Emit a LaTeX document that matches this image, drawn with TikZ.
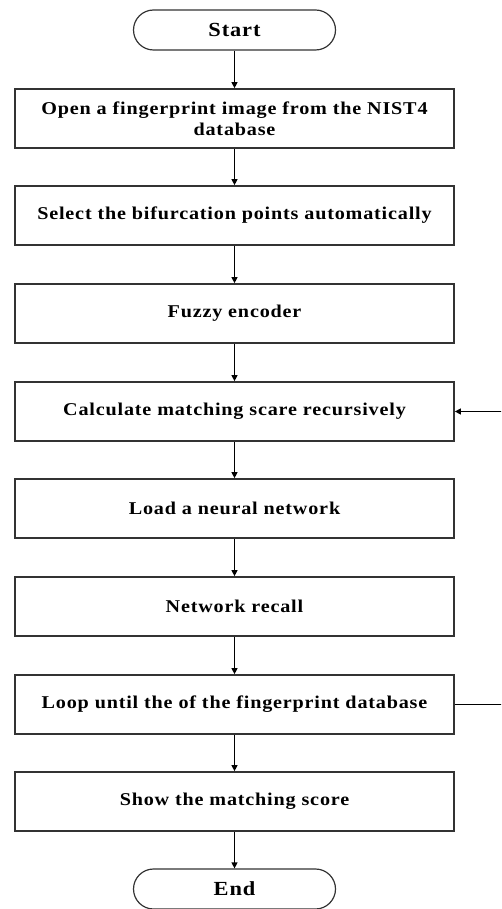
\documentclass[tikz,border=0pt]{standalone}
\usepackage{fontspec}
\setmainfont{Liberation Serif}
\newfontfamily\boxfont{Liberation Serif}[FakeStretch=1.12, LetterSpace=4.5]
\usetikzlibrary{arrows.meta}
\tikzset{
  stepbox/.style={draw=black!80, line width=1.7pt, minimum width=439pt, minimum height=59pt,
    inner sep=0pt, align=center, font=\boxfont\fontsize{18}{21}\selectfont\bfseries},
  term/.style={draw=black!80, line width=1.2pt, minimum width=202pt, minimum height=40pt,
    rounded corners=20pt, inner sep=0pt, font=\boxfont\fontsize{20}{22}\selectfont\bfseries},
  flow/.style={line width=1.2pt, -{Triangle[length=6pt,width=6pt]}}
}
\begin{document}
\begin{tikzpicture}[x=1pt,y=-1pt]
\useasboundingbox (0,0) rectangle (501,909);
\clip (0,0) rectangle (501,909);
\node[term] (start) at (234.5,30) {Start};
\node[stepbox] (b1) at (234.5,118.5) {Open a fingerprint image from the NIST4\\database};
\node[stepbox] (b2) at (234.5,215.5) {Select the bifurcation points automatically};
\node[stepbox] (b3) at (234.5,313.5) {Fuzzy encoder};
\node[stepbox] (b4) at (234.5,411.5) {Calculate matching scare recursively};
\node[stepbox] (b5) at (234.5,508.5) {Load a neural network};
\node[stepbox] (b6) at (234.5,606.5) {Network recall};
\node[stepbox] (b7) at (234.5,704.5) {Loop until the of the fingerprint database};
\node[stepbox] (b8) at (234.5,801.5) {Show the matching score};
\node[term] (end) at (234.5,889) {End};
\draw[flow] (start) -- (b1);
\draw[flow] (b1) -- (b2);
\draw[flow] (b2) -- (b3);
\draw[flow] (b3) -- (b4);
\draw[flow] (b4) -- (b5);
\draw[flow] (b5) -- (b6);
\draw[flow] (b6) -- (b7);
\draw[flow] (b7) -- (b8);
\draw[flow] (b8) -- (end);
\coordinate (loopx) at (510,0);
\draw[flow] (b7.east) -- (b7.east -| loopx) -- (b4.east -| loopx) -- (b4.east);
\end{tikzpicture}
\end{document}
